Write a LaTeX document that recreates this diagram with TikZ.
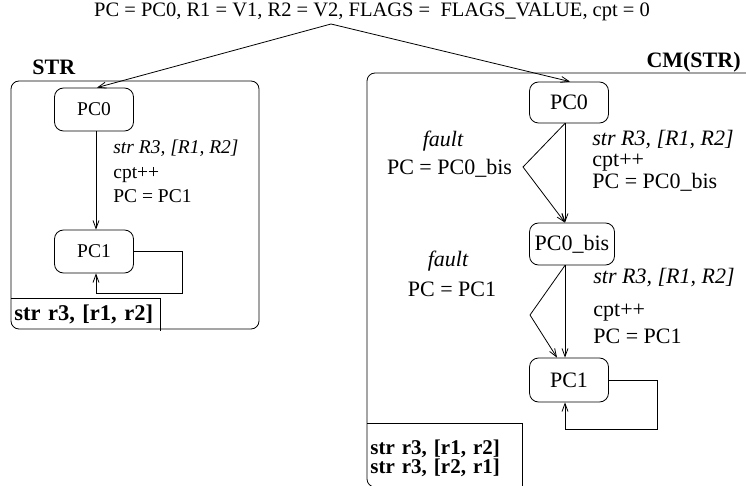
\documentclass[tikz,border=0pt]{standalone}
\usepackage{fontspec}
\setmainfont{Liberation Serif}
\usetikzlibrary{arrows.meta}

\tikzset{
    arr/.style={-{Straight Barb[length=8pt,width=6pt]}},
    frame/.style={rounded corners=8pt},
    lstate/.style={draw, rounded corners=9pt, minimum width=79pt, minimum height=43pt, font=\fontsize{19.5}{22}\selectfont},
    rstate/.style={draw, rounded corners=9pt, minimum width=79pt, minimum height=42pt, font=\fontsize{22}{24}\selectfont},
    llabel/.style={anchor=base west, inner sep=0pt, font=\fontsize{19.5}{22}\selectfont},
    rlabel/.style={anchor=base west, inner sep=0pt, font=\fontsize{22}{24}\selectfont},
    flabel/.style={anchor=base, inner sep=0pt, font=\fontsize{22}{24}\selectfont},
    title/.style={inner sep=0pt, font=\fontsize{22}{24}\selectfont\bfseries},
    code/.style={inner xsep=3pt, inner ysep=0pt, align=left, font=\fontsize{21}{19}\selectfont\bfseries},
}

\begin{document}
\begin{tikzpicture}[x=1pt, y=-1pt, line width=0.8pt]
    \useasboundingbox (0,0) rectangle (746,486);
    \clip (0,0) rectangle (746,486);

    \node[anchor=base, inner sep=0pt, font=\fontsize{20.5}{22}\selectfont] (init) at (372,17) {PC = PC0, R1 = V1, R2 = V2, FLAGS =\ \ FLAGS\_VALUE, cpt = 0};
    \coordinate (apex) at (331,24);

    % STR
    \begin{scope}
        \node[title, anchor=base west] (STR) at (32,75) {STR};
        \draw[frame] (11,81) rectangle (259,329);

        \node[lstate] (lpc0) at (94,109.5) {PC0};
        \node[lstate] (lpc1) at (94,251.5) {PC1};

        \node[llabel] (lop) at (113,154) {\itshape str R3, [R1, R2]};
        \node[llabel] (lcpt) at (113,179) {cpt++};
        \node[llabel] (lpc) at (113,203) {PC = PC1};

        \node[code, font=\fontsize{22.5}{20}\selectfont\bfseries, anchor=south west, text width=143pt, minimum height=32pt] (lcode) at (11,331) {str r3, [r1, r2]};
        \draw (lcode.north west) -| (lcode.south east);

        \coordinate (lloop) at (182,293);

        % Draw the edges between nodes
        \draw[arr] (apex) -- ([xshift=3pt]lpc0.north);
        \draw[arr] ([xshift=2pt]lpc0.south) -- ([xshift=2pt]lpc1.north);
        \draw[arr] (lpc1.east) -| (lloop) -| ([xshift=2pt]lpc1.south);
    \end{scope}

    % CM(STR)
    \begin{scope}
        \node[title, anchor=base east] (CM) at (741,68) {CM(STR)};
        \draw[frame] (367,73) rectangle (790,487);

        \node[rstate, minimum height=41pt] (rpc0) at (569,102.5) {PC0};
        \node[rstate, minimum width=85pt] (rbis) at (572,244) {PC0\_bis};
        \node[rstate, minimum height=44pt] (rpc1) at (569,380) {PC1};

        \node[flabel] (fault1) at (443,147) {\itshape fault};
        \node[flabel] (fpc1) at (449.5,175) {PC = PC0\_bis};
        \node[rlabel] (rop1) at (592,146) {\itshape str R3, [R1, R2]};
        \node[rlabel] (rcpt1) at (592,166.5) {cpt++};
        \node[rlabel] (rpc1lbl) at (592,189) {PC = PC0\_bis};

        \node[flabel] (fault2) at (448,266) {\itshape fault};
        \node[flabel] (fpc2) at (452,296) {PC = PC1};
        \node[rlabel] (rop2) at (593,283) {\itshape str R3, [R1, R2]};
        \node[rlabel] (rcpt2) at (593,316) {cpt++};
        \node[rlabel] (rpc2lbl) at (593,343) {PC = PC1};

        \node[code, anchor=north west, text width=149pt, minimum height=70pt] (rcode) at (367,423) {str r3, [r1, r2]\\str r3, [r2, r1]};
        \draw (rcode.north west) -| (rcode.south east);

        \coordinate (f1) at (523,167);
        \coordinate (f2) at (530,315);
        \coordinate (rloop) at (657,429);

        % Draw the edges between nodes
        \draw[arr] (apex) -- ([xshift=1pt]rpc0.north);
        \draw[arr] ([xshift=-4pt]rpc0.south) -- ([xshift=-7pt]rbis.north);
        \draw[arr] ([xshift=-4pt]rpc0.south) -- (f1) -- ([xshift=-7pt]rbis.north);
        \draw[arr] ([xshift=-7pt]rbis.south) -- ([xshift=-4pt]rpc1.north);
        \draw[arr] ([xshift=-7pt]rbis.south) -- (f2) -- ([xshift=-12pt]rpc1.north);
        \draw[arr] (rpc1.east) -| (rloop) -| ([xshift=-4pt]rpc1.south);
    \end{scope}
\end{tikzpicture}
\end{document}
